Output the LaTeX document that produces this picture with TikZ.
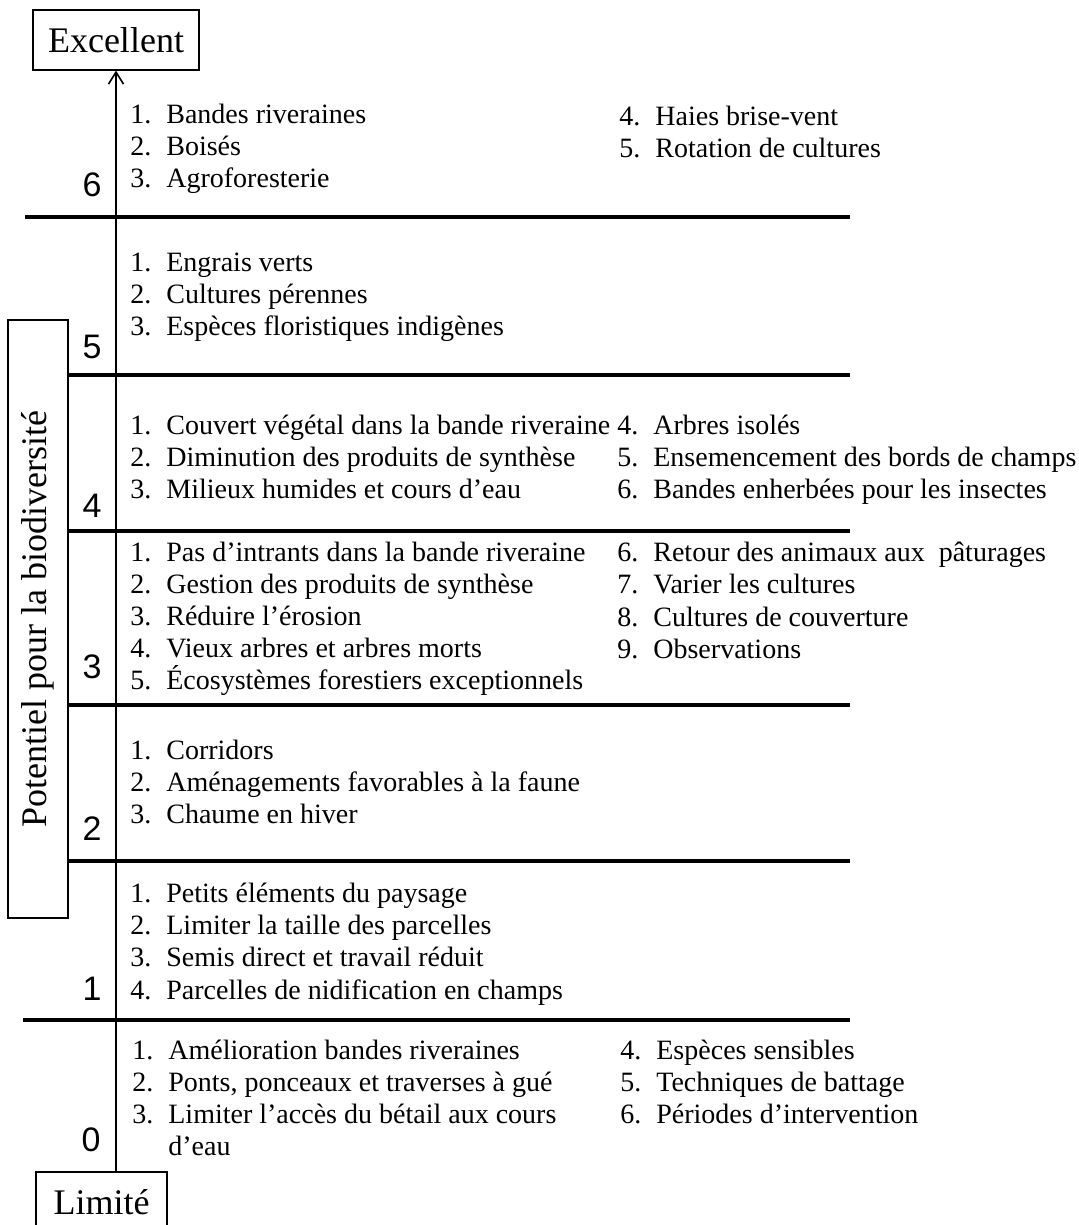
\documentclass[tikz,border=0pt]{standalone}
\usepackage{fontspec}
\setmainfont{Liberation Serif}
\newfontfamily\numfont{Liberation Sans}
\usetikzlibrary{positioning, arrows.meta}

\tikzset{
  item/.style={anchor=base west, inner sep=0pt, font=\fontsize{14}{16}\selectfont},
  level/.style={inner sep=0pt, font=\numfont\fontsize{17}{19}\selectfont},
  sep/.style={line width=2pt},
  tag/.style={draw, line width=0.6pt, inner sep=0pt, font=\fontsize{18}{20}\selectfont},
}
\newcommand{\num}[1]{\makebox[18pt][l]{#1.}}

\begin{document}
\begin{tikzpicture}[x=0.5pt, y=-0.5pt]
  \useasboundingbox (0,0) rectangle (1079,1225);

  % end boxes and axis
  \node[tag, minimum width=83pt, minimum height=30pt] (high) at (116,40) {Excellent};
  \node[tag, minimum width=65.5pt, minimum height=30pt] (low) at (101.5,1202) {Limité};
  \node[tag, rotate=90, minimum width=299pt, minimum height=30pt] (axis) at (38,619) {Potentiel pour la biodiversité};
  \draw[-{Straight Barb[length=6pt, width=7.5pt]}, line width=0.8pt] (high.south |- low.north) -- (high.south);

  % separators
  \draw[sep] (25,217) -- (850,217);
  \draw[sep] (68,375) -- (850,375);
  \draw[sep] (68,531) -- (850,531);
  \draw[sep] (68,705) -- (850,705);
  \draw[sep] (68,861) -- (850,861);
  \draw[sep] (23,1020) -- (850,1020);

  % levels
  \node[level] (lv6) at (92,185) {6};
  \node[level] (lv5) at (92,347) {5};
  \node[level] (lv4) at (92,506) {4};
  \node[level] (lv3) at (92,667) {3};
  \node[level] (lv2) at (92,829) {2};
  \node[level] (lv1) at (92,989) {1};
  \node[level] (lv0) at (91,1140) {0};

  % level 6
  \foreach \txt [count=\i] in {Bandes riveraines, Boisés, Agroforesterie}
    \node[item] (six-\i) at (130,{92+32*\i}) {\num{\i}\txt};
  \foreach \txt [count=\i from 4] in {Haies brise-vent, Rotation de cultures}
    \node[item] (six-\i) at (619,{126+32*(\i-4)}) {\num{\i}\txt};

  % level 5
  \foreach \txt [count=\i] in {Engrais verts, Cultures pérennes, Espèces floristiques indigènes}
    \node[item] (five-\i) at (130,{239+32*\i}) {\num{\i}\txt};

  % level 4
  \foreach \txt [count=\i] in {Couvert végétal dans la bande riveraine, Diminution des produits de synthèse, Milieux humides et cours d’eau}
    \node[item] (four-\i) at (130,{402+32*\i}) {\num{\i}\txt};
  \foreach \txt [count=\i from 4] in {Arbres isolés, Ensemencement des bords de champs, Bandes enherbées pour les insectes}
    \node[item] (four-\i) at (617,{434+32*(\i-4)}) {\num{\i}\txt};

  % level 3
  \foreach \txt [count=\i] in {Pas d’intrants dans la bande riveraine, Gestion des produits de synthèse, Réduire l’érosion, Vieux arbres et arbres morts, Écosystèmes forestiers exceptionnels}
    \node[item] (three-\i) at (130,{529+32*\i}) {\num{\i}\txt};
  \foreach \txt [count=\i from 6] in {Retour des animaux aux~ pâturages, Varier les cultures, Cultures de couverture, Observations}
    \node[item] (three-\i) at (617,{561+32.5*(\i-6)}) {\num{\i}\txt};

  % level 2
  \foreach \txt [count=\i] in {Corridors, Aménagements favorables à la faune, Chaume en hiver}
    \node[item] (two-\i) at (130,{727+32*\i}) {\num{\i}\txt};

  % level 1
  \foreach \txt [count=\i] in {Petits éléments du paysage, Limiter la taille des parcelles, Semis direct et travail réduit, Parcelles de nidification en champs}
    \node[item] (one-\i) at (130,{870+32.3*\i}) {\num{\i}\txt};

  % level 0
  \foreach \txt [count=\i] in {Amélioration bandes riveraines, {Ponts, ponceaux et traverses à gué}, Limiter l’accès du bétail aux cours}
    \node[item] (zero-\i) at (132,{1027+32*\i}) {\num{\i}\txt};
  \node[item] (zero-3b) at (168,1155) {d’eau};
  \foreach \txt [count=\i from 4] in {Espèces sensibles, Techniques de battage, Périodes d’intervention}
    \node[item] (zero-\i) at (620,{1059+32*(\i-4)}) {\num{\i}\txt};
\end{tikzpicture}
\end{document}
